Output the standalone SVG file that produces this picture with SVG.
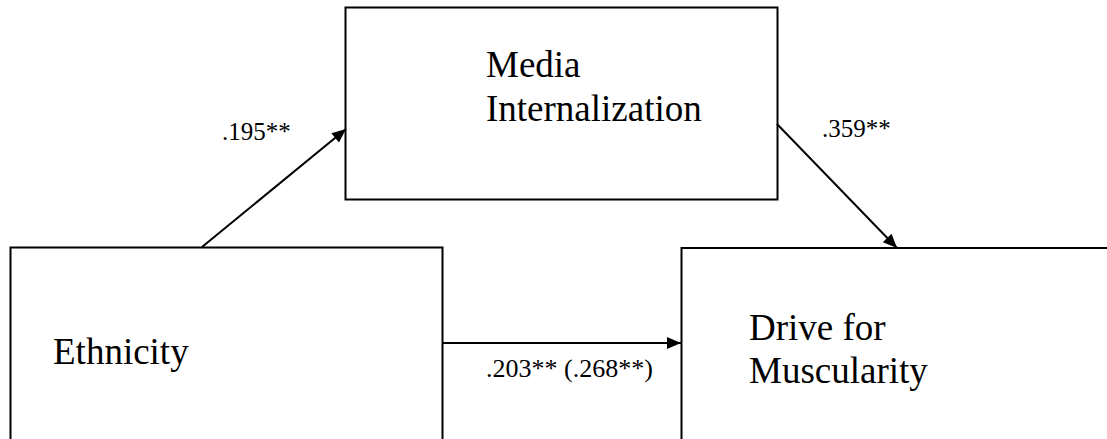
<svg xmlns="http://www.w3.org/2000/svg" width="1107" height="439" viewBox="0 0 1107 439">
  <style>
    .box { fill: #ffffff; stroke: #000000; stroke-width: 2; }
    .edge { fill: none; stroke: #000000; stroke-width: 2; }
    text { font-family: "Liberation Serif", "DejaVu Serif", serif; fill: #000000; }
    .name { font-size: 37px; }
    .coef { font-size: 25px; }
    .coef-wide { font-size: 26px; }
  </style>
  <defs>
    <marker id="arrow" viewBox="0 0 14 12" refX="14" refY="6" markerWidth="15" markerHeight="12" markerUnits="userSpaceOnUse" orient="auto">
      <path d="M0,0 L14,6 L0,12 z" fill="#000000"/>
    </marker>
  </defs>
  <rect width="1107" height="439" fill="#ffffff"/>

  <g id="node-media">
    <rect class="box" x="345.5" y="7.5" width="432" height="192"/>
    <text class="name" x="486" y="77">Media</text>
    <text class="name" x="486" y="121">Internalization</text>
  </g>

  <g id="node-ethnicity">
    <rect class="box" x="10.5" y="247.5" width="432" height="220"/>
    <text class="name" x="53" y="364">Ethnicity</text>
  </g>

  <g id="node-drive">
    <rect class="box" x="681.5" y="248" width="460" height="220"/>
    <text class="name" x="749" y="340">Drive for</text>
    <text class="name" x="749" y="383">Muscularity</text>
  </g>

  <g id="connectors">
    <line class="edge" x1="202" y1="247" x2="346" y2="129" marker-end="url(#arrow)"/>
    <line class="edge" x1="777" y1="124" x2="897" y2="248" marker-end="url(#arrow)"/>
    <line class="edge" x1="442" y1="343" x2="681" y2="343" marker-end="url(#arrow)"/>
    <text class="coef" x="222" y="140">.195**</text>
    <text class="coef" x="822" y="137">.359**</text>
    <text class="coef-wide" x="486" y="377">.203** (.268**)</text>
  </g>
</svg>
